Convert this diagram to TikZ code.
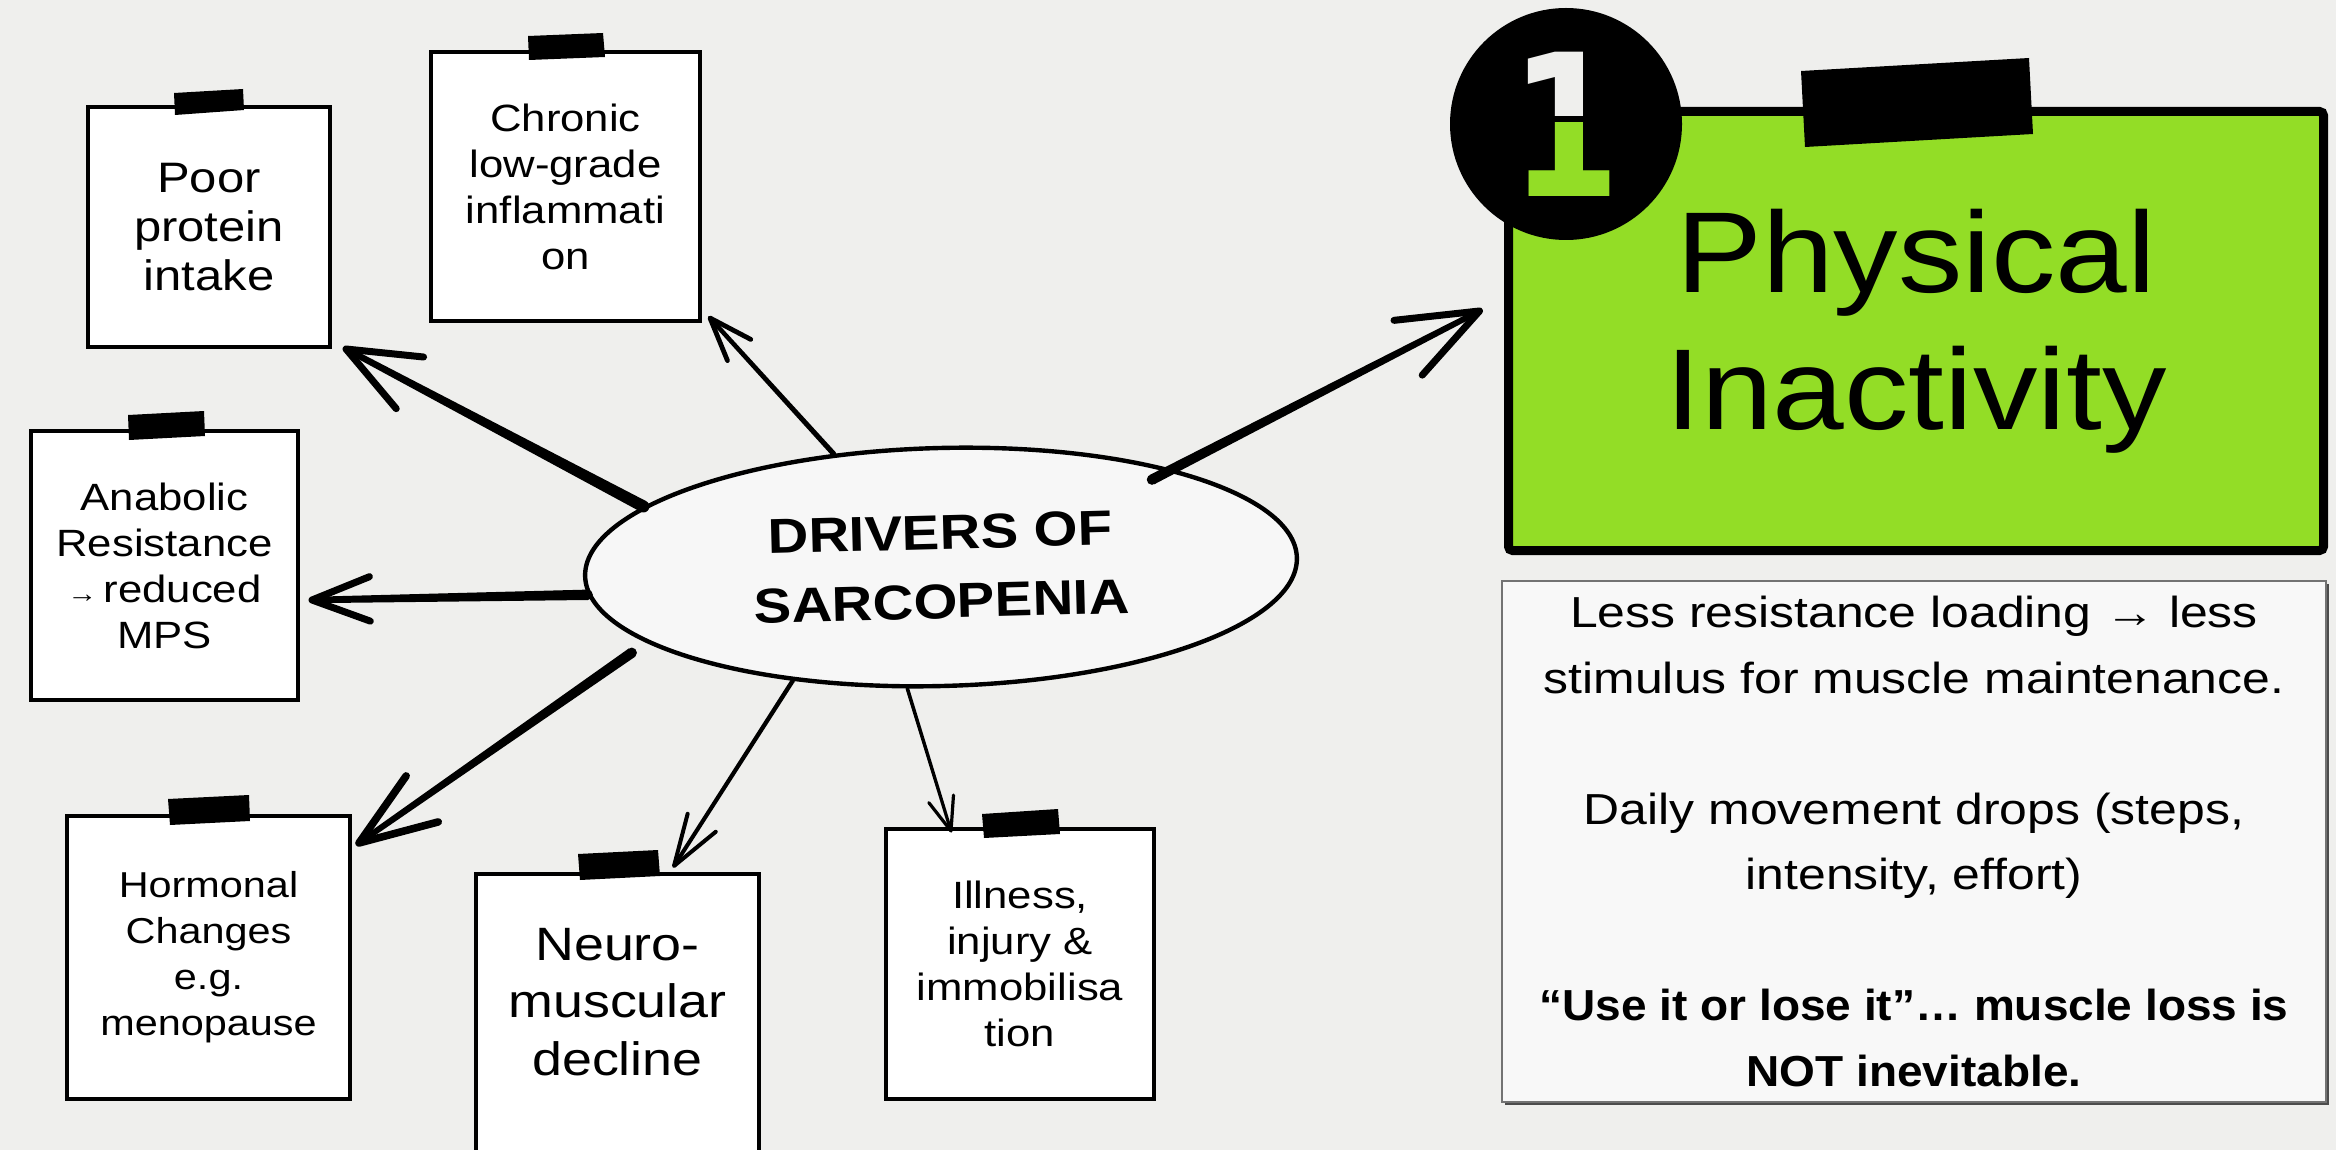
\documentclass[tikz,border=0pt]{standalone}
\usepackage{fontspec}
\setmainfont{Liberation Sans}
\newfontfamily\wfont[FakeStretch=1.15]{Liberation Sans}
\newfontfamily\bfont[FakeStretch=1.06]{Liberation Sans}
\newfontfamily\pfont[FakeStretch=1.12]{Liberation Sans}
\newfontfamily\numfont[FakeStretch=0.8]{DejaVu Sans}
\usetikzlibrary{shapes.geometric,calc}
\definecolor{bg}{HTML}{EFEFED}
\definecolor{limeg}{HTML}{93DD26}
\definecolor{ellfill}{HTML}{F7F7F7}
\definecolor{tbfill}{HTML}{F8F8F8}
% #1 start, #2 tip, #3 half width at start, #4 half width at tip, #5 head length, #6 head angle, #7 head line width
\newcommand\harrow[7]{%
  \fill ($(#1)!#3!90:(#2)$) -- ($(#2)!#4!-90:(#1)$) -- ($(#2)!#4!90:(#1)$) -- ($(#1)!#3!-90:(#2)$) -- cycle;
  \fill (#1) circle[radius=#3];
  \draw[line width=#7, line cap=round, line join=round] ($(#2)!#5!#6:(#1)$) -- (#2) -- ($(#2)!#5!-#6:(#1)$);
}
\begin{document}
\begin{tikzpicture}[x=0.5pt,y=-0.5pt,
  note/.style={draw=black, line width=2pt, fill=white, inner sep=0pt, align=center,
    font=\wfont\fontsize{19}{23}\selectfont},
  digit/.style={font=\numfont\bfseries\fontsize{99}{99}\selectfont, inner sep=0pt}]
\useasboundingbox[fill=bg] (0,0) rectangle (2336,1150);

% ---- paper notes ----
\node[note, minimum width=121pt, minimum height=120pt, font=\wfont\fontsize{21.3}{24.5}\selectfont] (poor) at (209,227) {Poor\\protein\\intake};
\node[note, minimum width=134.5pt, minimum height=134.5pt] (chron) at (565.5,186.5) {Chronic\\low-grade\\inflammati\\on};
\node[note, minimum width=133.5pt, minimum height=134.5pt] (anab) at (164.5,565.5) {Anabolic\\Resistance\\{\fontsize{13}{23}\selectfont →}\,reduced\\MPS};
\node[note, minimum width=141.5pt, minimum height=141.5pt, font=\wfont\fontsize{18}{23}\selectfont] (horm) at (208.5,957.5) {Hormonal\\Changes\\e.g.\\menopause};
\node[note, minimum width=141.5pt, minimum height=170pt, anchor=north] (neuro) at (617.5,872) {};
\node[font=\wfont\fontsize{23.4}{28.7}\selectfont, align=center] (neurotxt) at (617.5,1002) {Neuro-\\muscular\\decline};
\node[note, minimum width=134pt, minimum height=135pt] (ill) at (1020,964) {Illness,\\injury \&\\immobilisa\\tion};

% ---- tapes ----
\fill (174,93) -- (243,89) -- (244,110) -- (175,115) -- cycle;
\fill (528,36) -- (603,33) -- (605,57) -- (529,60) -- cycle;
\fill (128,415) -- (204,411) -- (205,436) -- (129,440) -- cycle;
\fill (168,799) -- (249,795) -- (250,821) -- (170,825) -- cycle;
\fill (578,854) -- (658,850) -- (660,876) -- (580,880) -- cycle;
\fill (982,814) -- (1058,809) -- (1060,834) -- (984,838) -- cycle;

% ---- Physical inactivity ----
\node[draw, line width=4.5pt, fill=limeg, rounded corners=2pt, minimum width=407.5pt, minimum height=219.5pt,
  inner sep=0pt, align=center, font=\pfont\fontsize{57.5}{68.5}\selectfont] (PI) at (1916,331) {Physical\\Inactivity};
\fill (1801,71) -- (2029,58) -- (2033,134) -- (1805,147) -- cycle;
\node[circle, fill=black, minimum size=116pt, inner sep=0pt] (num) at (1566,124) {};
\begin{scope}
  \clip (1400,0) rectangle (1700,116);
  \node[digit, text=bg] (one) at (num.center) {1};
\end{scope}
\begin{scope}
  \clip (1400,123) rectangle (1700,300);
  \node[digit, text=limeg] (oneg) at (num.center) {1};
\end{scope}

% ---- text box ----
\fill[black!70] (1505,584) rectangle (2329,1105);
\node[draw=black!55, line width=0.6pt, fill=tbfill, minimum width=412pt, minimum height=260.5pt, inner sep=0pt,
  align=center, font=\wfont\fontsize{21.7}{32.75}\selectfont] (TB) at (1914,841.5)
  {Less resistance loading → less\\stimulus for muscle maintenance.\\[32.75pt]Daily movement drops (steps,\\intensity, effort)\\[32.75pt]{\bfont\bfseries “Use it or lose it”… muscle loss is}\\{\bfont\bfseries NOT inevitable.}};

% ---- centre ellipse ----
\node[ellipse, draw, line width=2.2pt, fill=ellfill, minimum width=356pt, minimum height=119pt, inner sep=0pt,
  rotate=1.5, align=center, font=\wfont\bfseries\fontsize{24.5}{34.5}\selectfont] (E) at (941,567) {DRIVERS OF\\SARCOPENIA};

% ---- arrows ----
\coordinate (s1) at (E.167);
\coordinate (s2) at (E.132);
\coordinate (s3) at (E.183);
\coordinate (s4) at ($(E.center)!1.08!(E.194)$);
\coordinate (s5) at (E.216);
\coordinate (s6) at (E.253);
\coordinate (s7) at ($(E.center)!0.9!(E.21)$);
\coordinate (t1) at ($(poor.south east)+(14,0)$);
\coordinate (t2) at ($(chron.south east)+(8,-5)$);
\coordinate (t3) at ($(anab.east)+(12,34.5)$);
\coordinate (t4) at ($(horm.north east)+(7,29)$);
\coordinate (t5) at ($(neuro.north)+(56.5,-6)$);
\coordinate (t6) at ($(ill.north west)+(67,4)$);
\coordinate (t7) at ($(PI.west)+(-24.5,-20)$);
\harrow{s1}{t1}{3pt}{1.5pt}{39pt}{22}{3.5pt}
\harrow{s2}{t2}{1.3pt}{1.1pt}{23pt}{20}{2.4pt}
\harrow{s3}{t3}{2.6pt}{1.6pt}{31pt}{21}{3.5pt}
\harrow{s4}{t4}{2.6pt}{1.4pt}{41pt}{20}{3.8pt}
\harrow{s5}{t5}{1.1pt}{1pt}{27pt}{18}{2pt}
\harrow{s6}{t6}{0.9pt}{0.8pt}{18pt}{21}{1.6pt}
\harrow{s7}{t7}{2.6pt}{1.4pt}{43pt}{21}{3.5pt}
\end{tikzpicture}
\end{document}
